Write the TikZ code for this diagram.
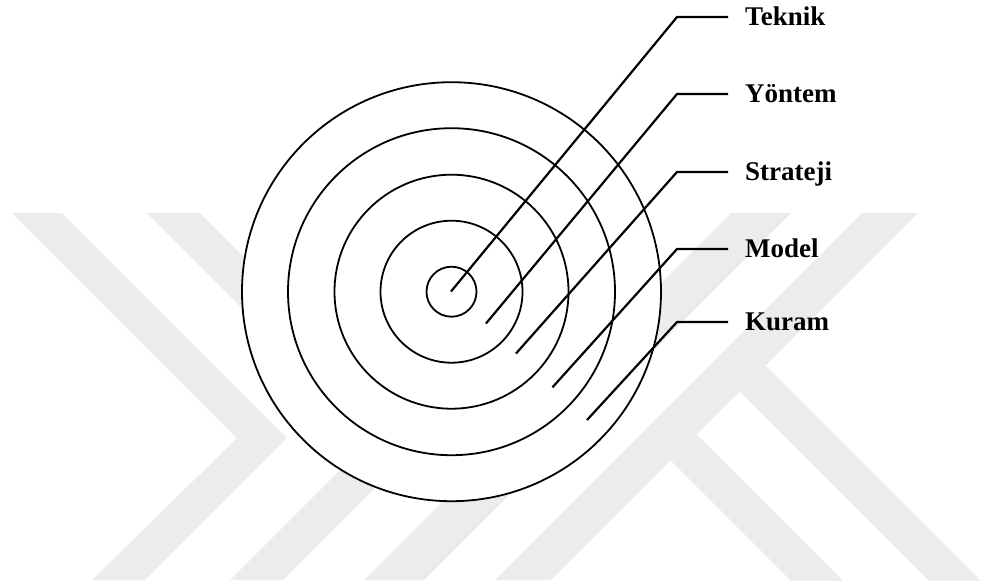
\documentclass[tikz,border=0pt]{standalone}
\usepackage{fontspec}
\setmainfont{Liberation Serif}
\definecolor{wm}{RGB}{236,236,236}
\tikzset{
  ring/.style={draw=black, line width=1.8pt},
  leader/.style={draw=black, line width=2.2pt, line join=miter},
  lbl/.style={anchor=base west, inner sep=0pt, font=\bfseries\fontsize{27}{30}\selectfont},
  wmark/.style={fill=wm, draw=none}
}
\begin{document}
\begin{tikzpicture}[x=1pt, y=-1pt]
\useasboundingbox (0,0) rectangle (981,584);
% watermark
\begin{scope}
\clip (0,213) rectangle (981,580);
\fill[wmark] (12,213) -- (62,213) -- (287,438) -- (145,580) -- (92,580) -- (237,438) -- cycle;
\fill[wmark] (147,213) -- (200,213) -- (425,438) -- (283,580) -- (230,580) -- (372,438) -- cycle;
\fill[wmark] (731,213) -- (791,213) -- (424,580) -- (364,580) -- cycle;
\fill[wmark] (862,213) -- (918,213) -- (551,580) -- (495,580) -- cycle;
\fill[wmark] (737.5,337.5) -- (990,590) -- (938,590) -- (711.5,363.5) -- cycle;
\fill[wmark] (668.5,406.5) -- (852,590) -- (800,590) -- (642.5,432.5) -- cycle;
\end{scope}
% circles
\coordinate (c) at (451.5,291.7);
\fill[white] (c) circle[radius=209.5pt];
\foreach \r in {25,71,117,163.5,209.5}
  \draw[ring] (c) circle[radius=\r pt];
% leader anchor points
\coordinate (s1) at (451,291.5);
\coordinate (s2) at (486,323.5);
\coordinate (s3) at (516,353.5);
\coordinate (s4) at (552.5,387.3);
\coordinate (s5) at (587,420);
\coordinate (k1) at (677,17);
\coordinate (k2) at (677,94);
\coordinate (k3) at (677,172);
\coordinate (k4) at (677,249);
\coordinate (k5) at (677,322);
\node[lbl] (t1) at (745,25.5) {Teknik};
\node[lbl] (t2) at (745,102.5) {Yöntem};
\node[lbl] (t3) at (745,180.5) {Strateji};
\node[lbl] (t4) at (745,257.5) {Model};
\node[lbl] (t5) at (745,330.5) {Kuram};
\coordinate (e1) at (728,17);
\coordinate (e2) at (728,94);
\coordinate (e3) at (728,172);
\coordinate (e4) at (728,249);
\coordinate (e5) at (728,322);
\foreach \i in {1,...,5}
  \draw[leader] (s\i) -- (k\i) -- (e\i);
\end{tikzpicture}
\end{document}
